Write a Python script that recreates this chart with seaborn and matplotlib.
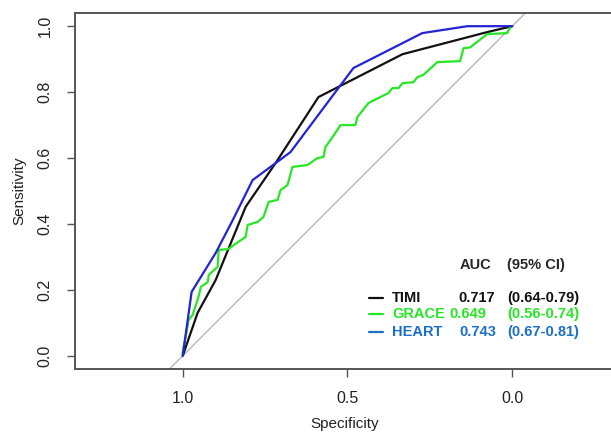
import pandas as pd
import matplotlib.pyplot as plt
import seaborn as sns

# ROC curves (specificity, sensitivity)
timi_spec = [1.0, 0.955, 0.900, 0.809, 0.718, 0.588, 0.333, 0.076, 0.0]
timi_sens = [0.0, 0.130, 0.230, 0.452, 0.585, 0.785, 0.915, 0.982, 1.0]

heart_spec = [1.0, 0.973, 0.900, 0.848, 0.788, 0.673, 0.482, 0.273, 0.136, 0.0]
heart_sens = [0.0, 0.194, 0.312, 0.412, 0.533, 0.618, 0.873, 0.979, 1.0, 1.0]

grace_spec = [1.0, 1.0, 0.982, 0.970, 0.952, 0.945, 0.924, 0.921, 0.894, 0.891,
              0.861, 0.845, 0.809, 0.803, 0.773, 0.755, 0.739, 0.712, 0.703, 0.682,
              0.667, 0.621, 0.591, 0.573, 0.567, 0.545, 0.521, 0.476, 0.470, 0.436,
              0.406, 0.376, 0.364, 0.345, 0.333, 0.300, 0.288, 0.270, 0.227, 0.158,
              0.148, 0.127, 0.076, 0.015, 0.006, 0.0]
grace_sens = [0.0, 0.012, 0.109, 0.124, 0.179, 0.209, 0.224, 0.245, 0.270, 0.321,
              0.324, 0.336, 0.361, 0.397, 0.406, 0.421, 0.467, 0.473, 0.503, 0.518,
              0.573, 0.579, 0.600, 0.603, 0.633, 0.664, 0.700, 0.700, 0.724, 0.767,
              0.782, 0.797, 0.812, 0.812, 0.827, 0.830, 0.845, 0.852, 0.891, 0.894,
              0.933, 0.936, 0.976, 0.979, 0.997, 1.0]

models = ['TIMI', 'GRACE', 'HEART']
auc_vals = ['0.717', '0.649', '0.743']
auc_ci = ['(0.64-0.79)', '(0.56-0.74)', '(0.67-0.81)']

curve_colors = {'TIMI': '#111111', 'GRACE': '#26e626', 'HEART': '#2424d2'}
text_colors = {'TIMI': '#111111', 'GRACE': '#26e626', 'HEART': '#1c6fc4'}

df = pd.concat([
    pd.DataFrame({'spec': timi_spec, 'sens': timi_sens, 'model': 'TIMI'}),
    pd.DataFrame({'spec': grace_spec, 'sens': grace_sens, 'model': 'GRACE'}),
    pd.DataFrame({'spec': heart_spec, 'sens': heart_sens, 'model': 'HEART'}),
], ignore_index=True)

sns.set_style('white')
plt.rcParams['font.family'] = ['Liberation Sans', 'DejaVu Sans']

fig = plt.figure(figsize=(6.11, 4.34), dpi=100)
ax = fig.add_axes([75 / 611, 1 - 369 / 434, 539 / 611, 356 / 434])

ax.axline((1, 0), (0, 1), color='#b8b8b8', lw=1.0, zorder=1)
sns.lineplot(data=df, x='spec', y='sens', hue='model', palette=curve_colors,
             sort=False, estimator=None, legend=False, lw=1.6, ax=ax, zorder=3)

ax.set_xlim(1.327, -0.309)
ax.set_ylim(-0.04, 1.04)
ax.set_xticks([1.0, 0.5, 0.0])
ax.set_xticklabels(['1.0', '0.5', '0.0'])
ax.set_yticks([0.0, 0.2, 0.4, 0.6, 0.8, 1.0])
ax.set_yticklabels(['0.0', '0.2', '0.4', '0.6', '0.8', '1.0'], rotation=90, va='center')
ax.tick_params(axis='both', direction='out', length=6, width=1.0, color='#555555',
               labelsize=11.5, labelcolor='#222222', pad=10, left=True, bottom=True)
ax.set_xlabel('Specificity', fontsize=11, color='#222222', labelpad=8)
ax.set_ylabel('Sensitivity', fontsize=11, color='#222222', labelpad=8)

for side in ['left', 'top', 'bottom', 'right']:
    ax.spines[side].set_color('#555555')
    ax.spines[side].set_linewidth(1.4)

# legend block as text
ax.text(0.161, 0.277, 'AUC', fontsize=10.5, fontweight='bold', va='center', ha='left')
ax.text(0.015, 0.277, '(95% CI)', fontsize=10.5, fontweight='bold', va='center', ha='left')
row_y = [0.176, 0.127, 0.073]
val_x = [0.164, 0.191, 0.161]
for m, v, ci, y, vx in zip(models, auc_vals, auc_ci, row_y, val_x):
    c = text_colors[m]
    ax.plot([0.436, 0.391], [y, y], color=c, lw=1.6)
    ax.text(0.364, y, m, fontsize=10.5, fontweight='bold', color=c, va='center', ha='left')
    ax.text(vx, y, v, fontsize=10.5, fontweight='bold', color=c, va='center', ha='left')
    ax.text(0.015, y, ci, fontsize=10.5, fontweight='bold', color=c, va='center', ha='left')

fig.savefig('out.png', dpi=100)
